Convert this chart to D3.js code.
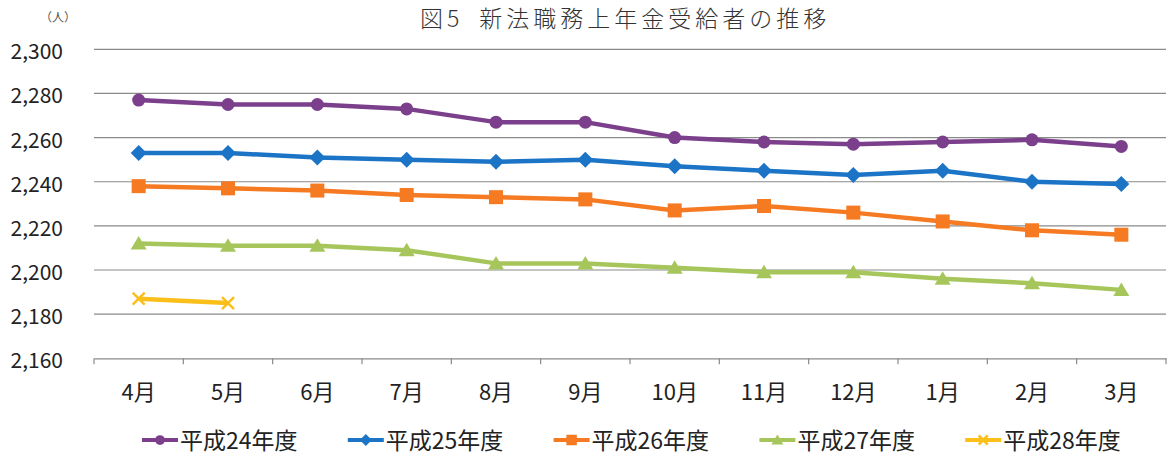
<!DOCTYPE html>
<html><head><meta charset="utf-8">
<script src="https://cdn.jsdelivr.net/npm/d3@7"></script>
<style>
html,body{margin:0;padding:0;background:#fff;}
svg{display:block;font-family:"Noto Sans CJK JP","Noto Sans",sans-serif;}
</style></head>
<body>
<svg id="chart" width="1168" height="458"></svg>
<script>
const months = ["4月","5月","6月","7月","8月","9月","10月","11月","12月","1月","2月","3月"];
const yTicks = [2160,2180,2200,2220,2240,2260,2280,2300];
const seriesNames = ["平成24年度","平成25年度","平成26年度","平成27年度","平成28年度"];
const h24 = [2277,2275,2275,2273,2267,2267,2260,2258,2257,2258,2259,2256];
const h25 = [2253,2253,2251,2250,2249,2250,2247,2245,2243,2245,2240,2239];
const h26 = [2238,2237,2236,2234,2233,2232,2227,2229,2226,2222,2218,2216];
const h27 = [2212,2211,2211,2209,2203,2203,2201,2199,2199,2196,2194,2191];
const h28 = [2187,2185];
const colors = ["#7b3f8c","#1c74c6","#f57a22","#a6c65c","#fbbf1a"];
const markers = ["circle","diamond","square","triangle","x"];
const seriesVals = [h24,h25,h26,h27,h28];

const svg = d3.select("#chart");
const x = d3.scaleBand().domain(months).range([94,1166]).padding(0);
const y = d3.scaleLinear().domain([2160,2300]).range([358.3,49.3]);

// title
svg.append("text").attr("x",420).attr("y",27).attr("font-size",23).attr("fill","#333")
  .attr("font-weight",300).attr("letter-spacing",4)
  .call(t=>{t.append("tspan").text("図5");t.append("tspan").attr("dx",16).text("新法職務上年金受給者の推移");});
svg.append("text").attr("x",58).attr("y",22).attr("font-size",12).attr("fill","#555")
  .attr("text-anchor","middle").text("（人）");

// grid
const grid = svg.append("g");
grid.selectAll("line").data(yTicks.filter(d=>d>2160)).join("line")
  .attr("x1",94).attr("x2",1166).attr("y1",d=>y(d)).attr("y2",d=>y(d))
  .attr("stroke","#8a8a8a").attr("stroke-width",1.2);

// y axis labels
const yAxis = d3.axisLeft(y).tickValues(yTicks).tickSize(0).tickPadding(0).tickFormat(d3.format(","));
const ya = svg.append("g").attr("transform","translate(63,0)").call(yAxis);
ya.select(".domain").remove();
ya.selectAll("text").attr("font-size",21).attr("fill","#222").attr("dy","0.45em")
  .attr("font-family",'"Noto Sans CJK JP","Noto Sans",sans-serif');

// x axis
const xAxis = d3.axisBottom(x).tickSize(0).tickPadding(0);
const xa = svg.append("g").attr("transform",`translate(0,${y(2160)})`).call(xAxis);
xa.select(".domain").attr("stroke","#8a8a8a").attr("stroke-width",1.2);
xa.selectAll("text").attr("font-size",22).attr("fill","#222").attr("y",42).attr("dy",0)
  .attr("font-family",'"Noto Sans CJK JP","Noto Sans",sans-serif');
const bounds = months.map(m=>x(m)).concat([x.range()[1]]);
svg.append("g").selectAll("line").data(bounds).join("line")
  .attr("x1",d=>d).attr("x2",d=>d).attr("y1",y(2160)).attr("y2",y(2160)+6)
  .attr("stroke","#8a8a8a").attr("stroke-width",1.2);

function drawMarker(g, type, color, cx, cy, s){
  if(type==="circle") g.append("circle").attr("cx",cx).attr("cy",cy).attr("r",6.5*s).attr("fill",color);
  else if(type==="diamond") g.append("path").attr("d",`M${cx},${cy-8*s}L${cx+8*s},${cy}L${cx},${cy+8*s}L${cx-8*s},${cy}Z`).attr("fill",color);
  else if(type==="square") g.append("rect").attr("x",cx-7*s).attr("y",cy-7*s).attr("width",14*s).attr("height",14*s).attr("fill",color);
  else if(type==="triangle") g.append("path").attr("d",`M${cx},${cy-7.5*s}L${cx+8*s},${cy+6*s}L${cx-8*s},${cy+6*s}Z`).attr("fill",color);
  else if(type==="x") g.append("path").attr("d",`M${cx-6*s},${cy-6*s}L${cx+6*s},${cy+6*s}M${cx+6*s},${cy-6*s}L${cx-6*s},${cy+6*s}`).attr("stroke",color).attr("stroke-width",2.5).attr("fill","none");
}

const line = d3.line().x((d,i)=>x(months[i])+x.bandwidth()/2).y(d=>y(d));
seriesVals.forEach((vals,si)=>{
  const g = svg.append("g");
  g.append("path").datum(vals).attr("d",line).attr("fill","none")
    .attr("stroke",colors[si]).attr("stroke-width",4.5).attr("stroke-linejoin","round");
  vals.forEach((v,i)=>drawMarker(g, markers[si], colors[si], x(months[i])+x.bandwidth()/2, y(v), 1));
});

// legend
const leg = svg.append("g");
seriesNames.forEach((n,i)=>{
  const lx = 142 + i*205.8, ly = 440;
  const g = leg.append("g");
  g.append("line").attr("x1",lx).attr("x2",lx+36).attr("y1",ly).attr("y2",ly)
    .attr("stroke",colors[i]).attr("stroke-width",4);
  drawMarker(g, markers[i], colors[i], lx+18, ly, 0.75);
  g.append("text").attr("x",lx+38).attr("y",ly+8.5).attr("font-size",23).attr("fill","#222").text(n);
});
</script>
</body></html>
